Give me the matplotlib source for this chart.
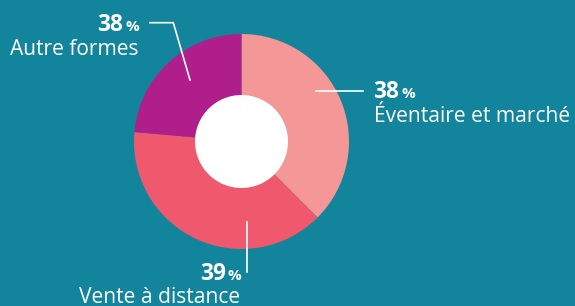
import matplotlib
matplotlib.use("Agg")
import matplotlib.pyplot as plt
from matplotlib.patches import Circle

# Data
categories = ["Éventaire et marché", "Vente à distance", "Autre formes"]
shares = [37.5, 38.9, 23.6]          # slice sizes as drawn
pct_labels = ["38", "39", "38"]      # labels as printed
colors = ["#F49797", "#F0586D", "#B01E8C"]
BG = "#12849B"

W, H = 575, 306
fig = plt.figure(figsize=(W / 100, H / 100), dpi=100, facecolor=BG)
ax = fig.add_axes([0, 0, 1, 1])
ax.set_facecolor(BG)

def Y(y):
    return H - y

cx, cy, R, r_in = 241.5, 141.5, 107.5, 46.5
ax.pie(shares, colors=colors, startangle=90, counterclock=False, radius=R,
       center=(cx, Y(cy)), wedgeprops=dict(linewidth=0))
ax.add_patch(Circle((cx, Y(cy)), r_in, facecolor="white", edgecolor="none", zorder=5))
ax.set_xlim(0, W)
ax.set_ylim(0, H)
ax.set_aspect("equal")
ax.axis("off")

lw = 1.2
# leader lines
ax.plot([316, 362.7], [Y(90.7), Y(90.7)], color="white", lw=lw, zorder=6)
ax.plot([247.3, 247.3], [Y(221.7), Y(271.7)], color="white", lw=lw, zorder=6)
ax.plot([150, 173.3, 190], [Y(22.7), Y(22.7), Y(80)], color="white", lw=lw, zorder=6)

FONT = "Open Sans"
big, small, lab = 16.3, 11.0, 15.1

def pct(x_num_right, x_pct_left, base, num):
    ax.text(x_num_right, Y(base), num, ha="right", va="baseline", color="white",
            fontsize=big, fontweight="bold", family=FONT, zorder=7)
    ax.text(x_pct_left, Y(base), "%", ha="left", va="baseline", color="white",
            fontsize=small, fontweight="bold", family=FONT, zorder=7)

# Éventaire et marché
pct(399.5, 401.0, 98.3, pct_labels[0])
ax.text(373.5, Y(122.3), categories[0], ha="left", va="baseline", color="white",
        fontsize=lab, family=FONT, zorder=7)
# Vente à distance
pct(226, 227.8, 279.5, pct_labels[1])
ax.text(240.5, Y(302.8), categories[1], ha="right", va="baseline", color="white",
        fontsize=lab, family=FONT, zorder=7)
# Autre formes
pct(123.3, 126.0, 30.7, pct_labels[2])
ax.text(139, Y(55), categories[2], ha="right", va="baseline", color="white",
        fontsize=lab, family=FONT, zorder=7)

fig.savefig("out.png", dpi=100, facecolor=BG)
